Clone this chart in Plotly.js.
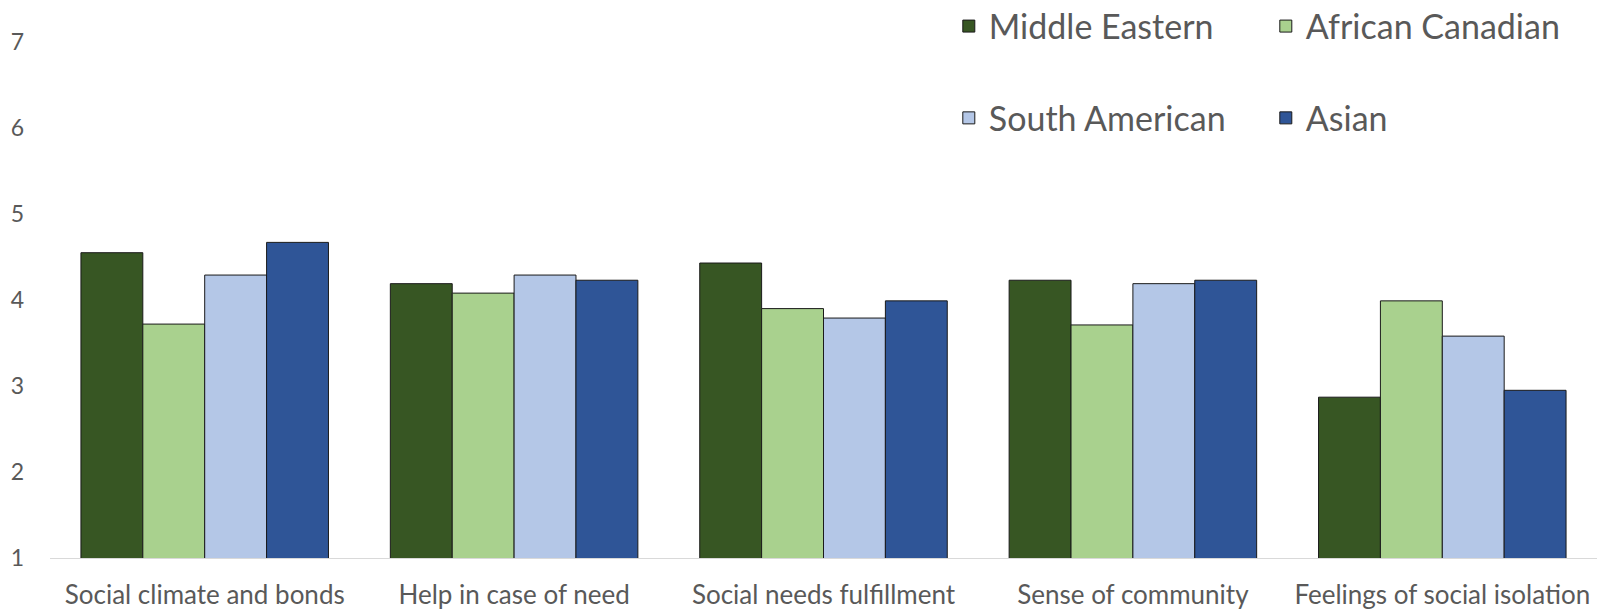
<!DOCTYPE html>
<html>
<head>
<meta charset="utf-8">
<script src="https://cdn.plot.ly/plotly-3.0.1.min.js"></script>
<style>html,body{margin:0;padding:0;background:#fff;}#chart{width:1612px;height:616px;}</style>
</head>
<body>
<div id="chart"></div>
<script>
const categories = ["Social climate and bonds", "Help in case of need", "Social needs fulfillment", "Sense of community", "Feelings of social isolation"];
const seriesNames = ["Middle Eastern", "African Canadian", "South American", "Asian"];
const middleEastern = [4.55, 4.19, 4.43, 4.23, 2.87];
const africanCanadian = [3.72, 4.08, 3.90, 3.71, 3.99];
const southAmerican = [4.29, 4.29, 3.79, 4.19, 3.58];
const asian = [4.67, 4.23, 3.99, 4.23, 2.95];
const yTicks = [1, 2, 3, 4, 5, 6, 7];

const colors = ["#375623", "#A9D18E", "#B4C7E7", "#2F5597"];
const values = [middleEastern, africanCanadian, southAmerican, asian];
const legends = ["legend", "legend", "legend2", "legend2"];

const traces = values.map((v, i) => ({
  type: "bar",
  name: seriesNames[i],
  x: categories,
  y: v,
  marker: {color: colors[i], line: {color: "#1a1a1a", width: 1}},
  legend: legends[i],
  hoverinfo: "x+y+name"
}));

const legendFont = {family: "Lato, 'Open Sans', sans-serif", size: 34, color: "#595959"};

const layout = {
  width: 1612,
  height: 616,
  margin: {l: 50, r: 15, t: 42, b: 58, autoexpand: false},
  paper_bgcolor: "#ffffff",
  plot_bgcolor: "#ffffff",
  barmode: "group",
  bargap: 0.2,
  bargroupgap: 0,
  font: {family: "Lato, 'Open Sans', sans-serif", color: "#595959"},
  xaxis: {
    type: "category",
    showgrid: false,
    showline: true,
    linecolor: "#D9D9D9",
    linewidth: 1,
    ticks: "",
    tickfont: {size: 26, color: "#595959"},
    ticklabelstandoff: 14,
    automargin: false,
    zeroline: false
  },
  yaxis: {
    range: [1, 7],
    tickvals: yTicks,
    ticktext: yTicks.map(String),
    showgrid: false,
    showline: false,
    zeroline: false,
    ticks: "",
    tickfont: {size: 23, color: "#595959"},
    ticklabelstandoff: 25,
    automargin: false
  },
  showlegend: true,
  legend: {
    orientation: "h",
    x: 0.581, xanchor: "left",
    yref: "container",
    y: 0.957, yanchor: "middle",
    entrywidth: 272,
    font: legendFont,
    bgcolor: "rgba(0,0,0,0)",
    traceorder: "normal"
  },
  legend2: {
    orientation: "h",
    x: 0.581, xanchor: "left",
    yref: "container",
    y: 0.808, yanchor: "middle",
    entrywidth: 272,
    font: legendFont,
    bgcolor: "rgba(0,0,0,0)",
    traceorder: "normal"
  }
};

Plotly.newPlot("chart", traces, layout, {displayModeBar: false, staticPlot: true});
</script>
</body>
</html>
